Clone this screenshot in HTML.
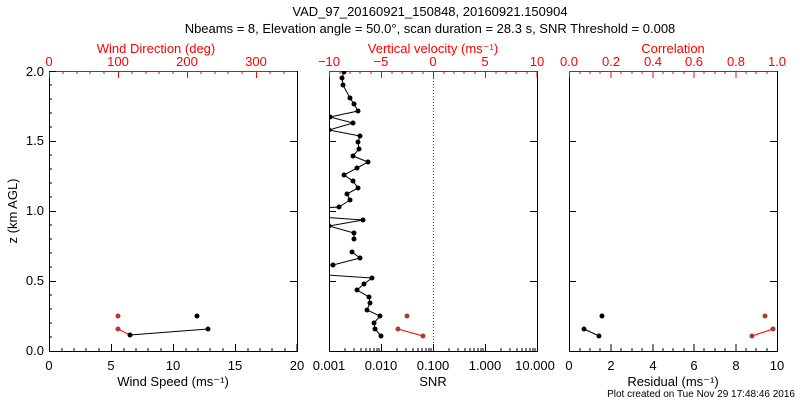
<!DOCTYPE html>
<html><head><meta charset="utf-8"><style>body{margin:0;background:#fff}svg{display:block}</style></head><body>
<svg width="800" height="400" xmlns="http://www.w3.org/2000/svg" font-family="Liberation Sans, sans-serif" font-size="13">
<rect width="800" height="400" fill="#fff"/>
<text x="430" y="16" text-anchor="middle">VAD_97_20160921_150848, 20160921.150904</text>
<text x="430" y="33" text-anchor="middle">Nbeams = 8, Elevation angle = 50.0°, scan duration = 28.3 s, SNR Threshold = 0.008</text>
<g fill="none" stroke="#000" stroke-width="1">
<rect x="49.5" y="71.5" width="248" height="280"/>
<rect x="329.5" y="71.5" width="208" height="280"/>
<rect x="569.5" y="71.5" width="208" height="280"/>
</g>
<!-- red top axes -->
<g stroke="red">
<line x1="49" y1="71.5" x2="297" y2="71.5"/><line x1="329" y1="71.5" x2="537" y2="71.5"/><line x1="569" y1="71.5" x2="777" y2="71.5"/>
<path d="M49.5 71v7M118.5 71v7M187.5 71v7M256.5 71v7M63 71v3M77 71v3M90 71v3M104 71v3M132 71v3M146 71v3M159 71v3M173 71v3M201 71v3M215 71v3M228 71v3M242 71v3M270 71v3M284 71v3"/>
<path d="M329.5 71v7M381.5 71v7M433.5 71v7M485.5 71v7M537 71v7M340 71v3M350 71v3M360 71v3M371 71v3M392 71v3M402 71v3M412 71v3M423 71v3M444 71v3M454 71v3M464 71v3M475 71v3M496 71v3M506 71v3M516 71v3M527 71v3"/>
<path d="M569.5 71v7M611 71v7M653 71v7M694 71v7M736 71v7M580 71v3M590 71v3M600 71v3M621 71v3M632 71v3M642 71v3M663 71v3M673 71v3M684 71v3M704 71v3M715 71v3M725 71v3M746 71v3M756 71v3M767 71v3"/>
</g>
<line x1="433.5" y1="72" x2="433.5" y2="351" stroke="red" stroke-dasharray="1,2"/>
<g fill="red" text-anchor="middle">
<text x="156" y="53">Wind Direction (deg)</text>
<text x="49" y="66">0</text><text x="118" y="66">100</text><text x="187" y="66">200</text><text x="256" y="66">300</text>
<text x="433" y="53">Vertical velocity (ms⁻¹)</text>
<text x="329" y="66">−10</text><text x="381" y="66">−5</text><text x="433" y="66">0</text><text x="485" y="66">5</text><text x="537" y="66">10</text>
<text x="673" y="53">Correlation</text>
<text x="569" y="66">0.0</text><text x="611" y="66">0.2</text><text x="653" y="66">0.4</text><text x="694" y="66">0.6</text><text x="736" y="66">0.8</text><text x="777" y="66">1.0</text>
</g>
<!-- bottom ticks -->
<g stroke="#000">
<path d="M49.5 351v-7M111.5 351v-7M173.5 351v-7M235.5 351v-7M297 351v-7M62 351v-3M74 351v-3M86 351v-3M99 351v-3M124 351v-3M136 351v-3M148 351v-3M161 351v-3M186 351v-3M198 351v-3M210 351v-3M223 351v-3M248 351v-3M260 351v-3M272 351v-3M285 351v-3"/>
<path d="M329.5 351v-7M381.5 351v-7M433.5 351v-7M485.5 351v-7M345 351v-3M354 351v-3M361 351v-3M366 351v-3M370 351v-3M374 351v-3M377 351v-3M379 351v-3M397 351v-3M406 351v-3M413 351v-3M418 351v-3M422 351v-3M426 351v-3M429 351v-3M431 351v-3M449 351v-3M458 351v-3M465 351v-3M470 351v-3M474 351v-3M478 351v-3M481 351v-3M483 351v-3M501 351v-3M510 351v-3M517 351v-3M522 351v-3M526 351v-3M530 351v-3M533 351v-3M535 351v-3"/>
<path d="M569.5 351v-7M611 351v-7M653 351v-7M694 351v-7M736 351v-7M580 351v-3M590 351v-3M600 351v-3M621 351v-3M632 351v-3M642 351v-3M663 351v-3M673 351v-3M684 351v-3M704 351v-3M715 351v-3M725 351v-3M746 351v-3M756 351v-3M767 351v-3"/>
<path d="M49 351.5h7M49 281.5h7M49 211.5h7M49 141.5h7M49 71.5h7M49 337h3M49 323h3M49 309h3M49 295h3M49 267h3M49 253h3M49 239h3M49 225h3M49 197h3M49 183h3M49 169h3M49 155h3M49 127h3M49 113h3M49 99h3M49 85h3"/>
<path d="M297 281.5h-7M297 211.5h-7M297 141.5h-7M329 281.5h7M329 211.5h7M329 141.5h7M537 281.5h-7M537 211.5h-7M537 141.5h-7M569 281.5h7M569 211.5h7M569 141.5h7M777 281.5h-7M777 211.5h-7M777 141.5h-7"/>
</g>
<g text-anchor="middle">
<text x="49" y="370">0</text><text x="111" y="370">5</text><text x="173" y="370">10</text><text x="235" y="370">15</text><text x="297" y="370">20</text>
<text x="173" y="386">Wind Speed (ms⁻¹)</text>
<text x="329" y="370">0.001</text><text x="381" y="370">0.010</text><text x="433" y="370">0.100</text><text x="485" y="370">1.000</text><text x="535" y="370">10.000</text>
<text x="433" y="386">SNR</text>
<text x="569" y="370">0</text><text x="611" y="370">2</text><text x="653" y="370">4</text><text x="694" y="370">6</text><text x="736" y="370">8</text><text x="777" y="370">10</text>
<text x="673" y="386">Residual (ms⁻¹)</text>
</g>
<g text-anchor="end"><text x="44" y="355">0.0</text><text x="44" y="285">0.5</text><text x="44" y="215">1.0</text><text x="44" y="145">1.5</text><text x="44" y="76">2.0</text></g>
<text transform="translate(17,211) rotate(-90)" text-anchor="middle">z (km AGL)</text>
<text x="795" y="397" text-anchor="end" font-size="10">Plot created on Tue Nov 29 17:48:46 2016</text>
<defs><clipPath id="c2"><rect x="329" y="71" width="208" height="280"/></clipPath></defs>
<!-- panel 2 -->
<g clip-path="url(#c2)">
<polyline fill="none" stroke="#000" points="344,72 342,78 343,85 350,98 354,104 358,111 330,117 353,123 329,130 360,136 358,142 359,149 353,156 368,162 357,168 344,175 353,181 358,188 347,194 350,200 339,207 250,212 363,220 329,226 354,233 354,239"/>
<polyline fill="none" stroke="#000" points="352,252 360,258 333,265 250,270 372,278 364,284 357,290 369,297 370,303 367,310 380,316 374,323 375,329 381,336"/>
<g fill="#000">
<circle cx="344" cy="72" r="2.5"/><circle cx="342" cy="78" r="2.5"/><circle cx="343" cy="85" r="2.5"/><circle cx="350" cy="98" r="2.5"/><circle cx="354" cy="104" r="2.5"/><circle cx="358" cy="111" r="2.5"/><circle cx="330" cy="117" r="2.5"/><circle cx="353" cy="123" r="2.5"/><circle cx="329" cy="130" r="2.5"/><circle cx="360" cy="136" r="2.5"/><circle cx="358" cy="142" r="2.5"/><circle cx="359" cy="149" r="2.5"/><circle cx="353" cy="156" r="2.5"/><circle cx="368" cy="162" r="2.5"/><circle cx="357" cy="168" r="2.5"/><circle cx="344" cy="175" r="2.5"/><circle cx="353" cy="181" r="2.5"/><circle cx="358" cy="188" r="2.5"/><circle cx="347" cy="194" r="2.5"/><circle cx="350" cy="200" r="2.5"/><circle cx="339" cy="207" r="2.5"/><circle cx="363" cy="220" r="2.5"/><circle cx="329" cy="226" r="2.5"/><circle cx="354" cy="233" r="2.5"/><circle cx="354" cy="239" r="2.5"/><circle cx="352" cy="252" r="2.5"/><circle cx="360" cy="258" r="2.5"/><circle cx="333" cy="265" r="2.5"/><circle cx="372" cy="278" r="2.5"/><circle cx="364" cy="284" r="2.5"/><circle cx="357" cy="290" r="2.5"/><circle cx="369" cy="297" r="2.5"/><circle cx="370" cy="303" r="2.5"/><circle cx="367" cy="310" r="2.5"/><circle cx="380" cy="316" r="2.5"/><circle cx="374" cy="323" r="2.5"/><circle cx="375" cy="329" r="2.5"/><circle cx="381" cy="336" r="2.5"/>
</g></g>
<line x1="398" y1="329" x2="423" y2="336" stroke="red"/>
<g fill="#b03a2e"><circle cx="407" cy="316" r="2.5"/><circle cx="398" cy="329" r="2.5"/><circle cx="423" cy="336" r="2.5"/></g>
<!-- panel 1 -->
<polyline fill="none" stroke="#000" points="130,335 208,329"/>
<line x1="118" y1="329" x2="130" y2="335" stroke="red"/>
<g fill="#000"><circle cx="197" cy="316" r="2.5"/><circle cx="130" cy="335" r="2.5"/><circle cx="208" cy="329" r="2.5"/></g>
<g fill="#b03a2e"><circle cx="118" cy="316" r="2.5"/><circle cx="118" cy="329" r="2.5"/></g>
<!-- panel 3 -->
<line x1="584" y1="329" x2="599" y2="336" stroke="#000"/>
<line x1="752" y1="336" x2="773" y2="329" stroke="red"/>
<g fill="#000"><circle cx="602" cy="316" r="2.5"/><circle cx="584" cy="329" r="2.5"/><circle cx="599" cy="336" r="2.5"/></g>
<g fill="#b03a2e"><circle cx="765" cy="316" r="2.5"/><circle cx="752" cy="336" r="2.5"/><circle cx="773" cy="329" r="2.5"/></g>
</svg>
</body></html>
